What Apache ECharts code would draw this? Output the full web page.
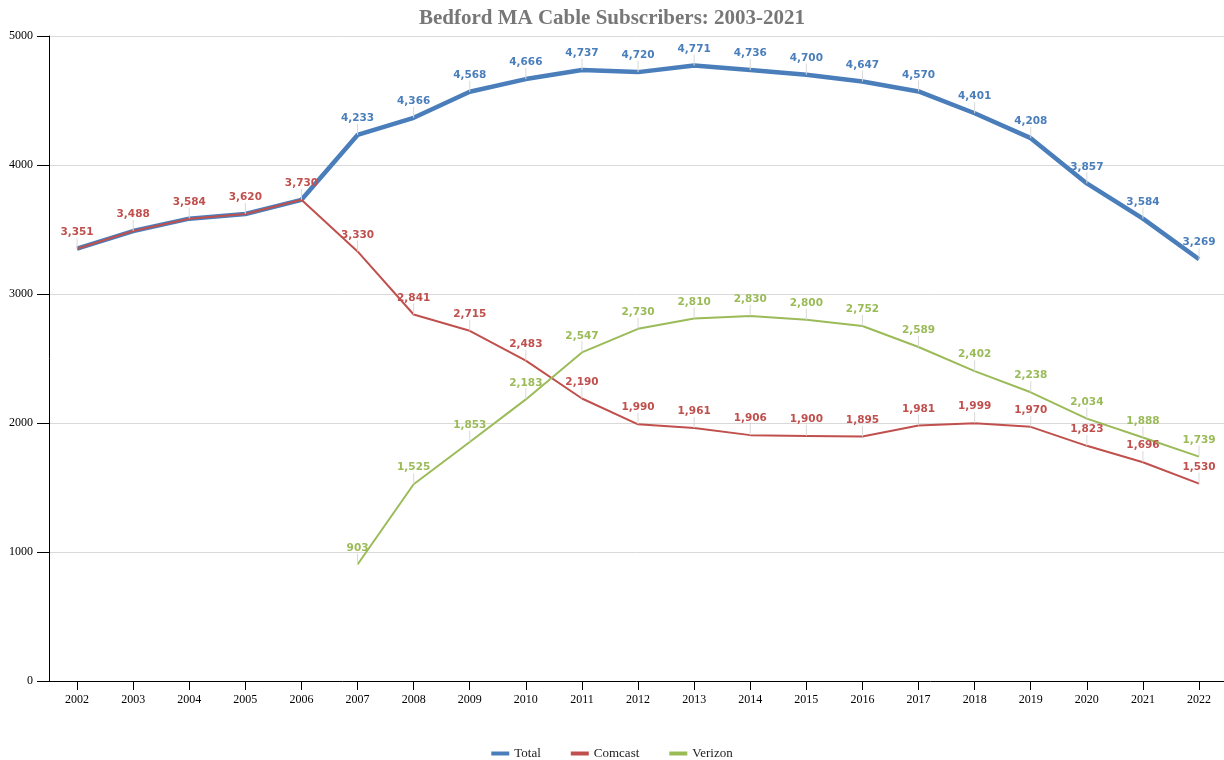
<!DOCTYPE html>
<html><head><meta charset="utf-8">
<script src="https://cdn.jsdelivr.net/npm/echarts@6/dist/echarts.min.js"></script>
<style>html,body{margin:0;padding:0;background:#fff}#c{width:1224px;height:760px}</style>
</head><body><div id="c"></div>
<script>
const years = [2002,2003,2004,2005,2006,2007,2008,2009,2010,2011,2012,2013,2014,2015,2016,2017,2018,2019,2020,2021,2022];
const total = [3351,3488,3584,3620,3730,4233,4366,4568,4666,4737,4720,4771,4736,4700,4647,4570,4401,4208,3857,3584,3269];
const comcast = [3351,3488,3584,3620,3730,3330,2841,2715,2483,2190,1990,1961,1906,1900,1895,1981,1999,1970,1823,1696,1530];
const verizon = [null,null,null,null,null,903,1525,1853,2183,2547,2730,2810,2830,2800,2752,2589,2402,2238,2034,1888,1739];
const totalHiddenLabels = 5;

const fmt = v => v.toLocaleString('en-US');
function mkLabel(color){
  return {show:true,position:'top',distance:2,color:color,fontFamily:'DejaVu Sans',fontWeight:'bold',fontSize:10.5,
    formatter:p=>fmt(p.value[1])};
}
const labelLine = {show:true,lineStyle:{color:'#d9d9d9',width:1}};
const labelLayout = {dy:-9};
const pairs = arr => arr.map((v,i)=>[years[i], v]).filter(d=>d[1]!==null);

const chart = echarts.init(document.getElementById('c'),null,{renderer:'canvas'});
chart.setOption({
  animation:false,
  title:{text:'Bedford MA Cable Subscribers: 2003-2021',left:'center',top:3,
    textStyle:{fontFamily:'Liberation Serif',fontWeight:'bold',fontSize:21,color:'#777'}},
  legend:{bottom:-5,left:'center',icon:'rect',itemWidth:18,itemHeight:4,itemGap:30,
    textStyle:{fontFamily:'Liberation Serif',fontSize:13,color:'#222'},
    data:['Total','Comcast','Verizon']},
  grid:{left:49,top:36,bottom:79,right:0},
  xAxis:{type:'value',min:2001.5,max:2022.445,
    axisLine:{show:true,onZero:false,lineStyle:{color:'#000',width:1}},
    axisTick:{show:true,length:9,customValues:years,lineStyle:{color:'#000'}},
    axisLabel:{fontFamily:'Liberation Serif',fontSize:12,color:'#000',margin:13,customValues:years,formatter:v=>String(v)},
    splitLine:{show:false}},
  yAxis:{type:'value',min:0,max:5000,interval:1000,
    axisLine:{show:true,lineStyle:{color:'#000',width:1}},
    axisTick:{show:true,length:12,lineStyle:{color:'#000'}},
    axisLabel:{fontFamily:'Liberation Serif',fontSize:12,color:'#000',margin:16,formatter:v=>String(v)},
    splitLine:{lineStyle:{color:'#d9d9d9'}}},
  series:[
    {name:'Total',type:'line',data:pairs(total).map((d,i)=>i<totalHiddenLabels?{value:d,label:{show:false},labelLine:{show:false}}:d),
      symbol:'circle',symbolSize:0.1,showSymbol:true,
      lineStyle:{color:'#4a7ebb',width:4.5},itemStyle:{color:'#4a7ebb'},
      label:mkLabel('#4a7ebb'),labelLine:labelLine,labelLayout:labelLayout,z:2},
    {name:'Comcast',type:'line',data:pairs(comcast),
      symbol:'circle',symbolSize:0.1,showSymbol:true,
      lineStyle:{color:'#c0504d',width:2},itemStyle:{color:'#c0504d'},
      label:mkLabel('#c0504d'),labelLine:labelLine,labelLayout:labelLayout,z:3},
    {name:'Verizon',type:'line',data:pairs(verizon),
      symbol:'circle',symbolSize:0.1,showSymbol:true,
      lineStyle:{color:'#9bbb59',width:2},itemStyle:{color:'#9bbb59'},
      label:mkLabel('#9bbb59'),labelLine:labelLine,labelLayout:labelLayout,z:3}
  ]
});
</script></body></html>
